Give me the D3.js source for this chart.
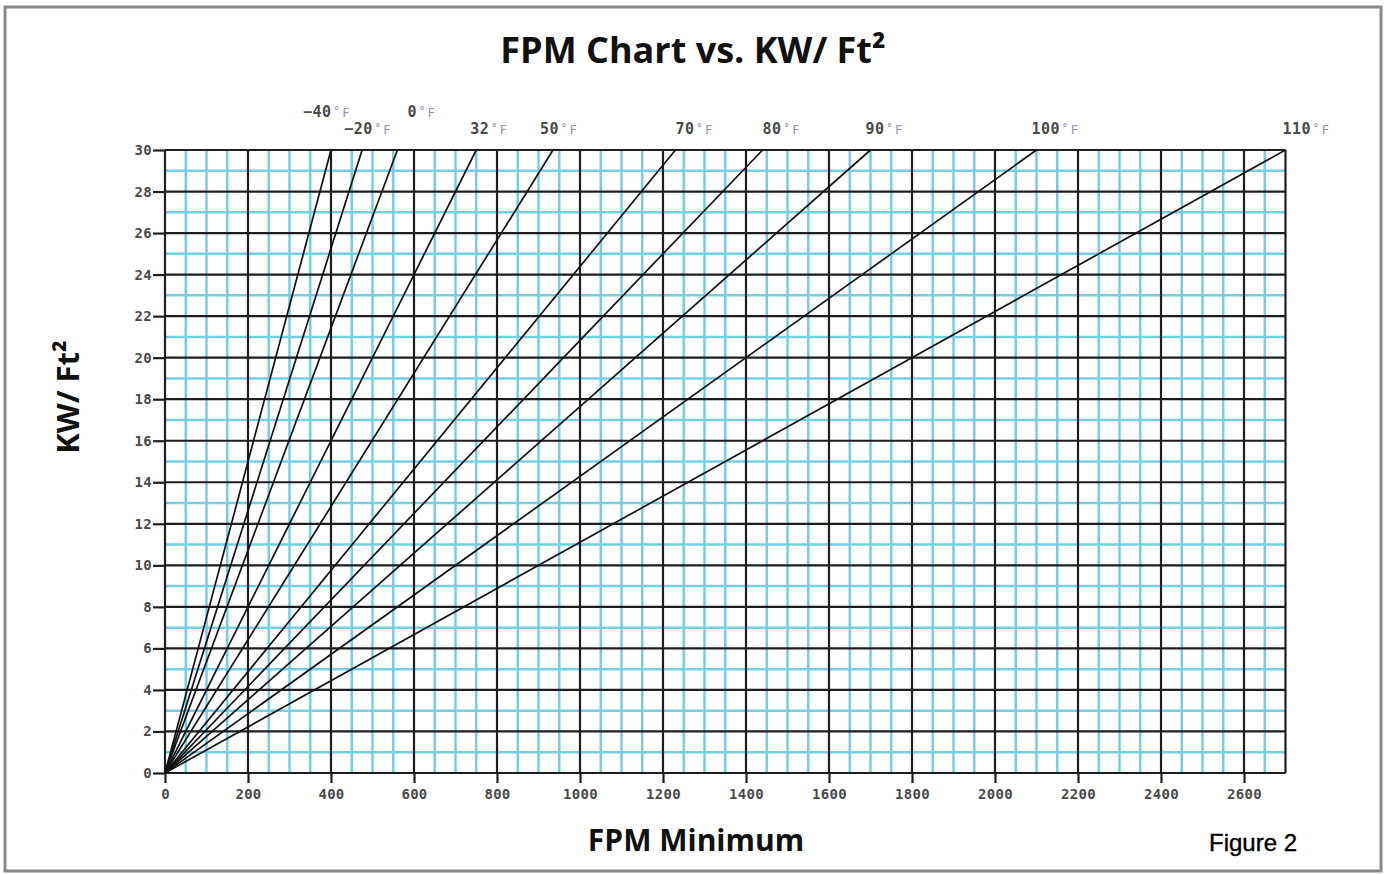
<!DOCTYPE html>
<html><head><meta charset="utf-8">
<script src="https://cdn.jsdelivr.net/npm/d3@7"></script>
<style>
html,body{margin:0;padding:0;background:#fff;}
svg{display:block;}
</style></head>
<body>
<svg id="chart" width="1387" height="874"></svg>
<script>
// ---- data ----
const seriesNames = ["-40", "-20", "0", "32", "50", "70", "80", "90", "100", "110"]; // °F
const fpmAtTop = [400, 475, 560, 750, 935, 1230, 1440, 1700, 2100, 2700];          // FPM where line reaches 30 KW/Ft²
const kwStart = 0, kwTop = 30;
const xTickValues = [0,200,400,600,800,1000,1200,1400,1600,1800,2000,2200,2400,2600];
const yTickValues = [0,2,4,6,8,10,12,14,16,18,20,22,24,26,28,30];
const xDomain = [0, 2700], yDomain = [0, 30];

// ---- layout for temperature labels (not data) ----
const labelRow = [0,1,0,1,1,1,1,1,1,1];
const labelDx = [-28,-18,10,-6,-13,0,0,-5,-5,-3];

const svg = d3.select("#chart");

// outer frame
svg.append("rect").attr("x",5).attr("y",7).attr("width",1376).attr("height",864)
  .attr("fill","none").attr("stroke","#8a8a8a").attr("stroke-width",3);

const x = d3.scaleLinear().domain(xDomain).range([165, 1285.5]);
const y = d3.scaleLinear().domain(yDomain).range([773, 150]);

const grid = svg.append("g");
// minor cyan grid
const xMinor = d3.range(50, 2700, 50).filter(v => v % 200 !== 0);
const yMinor = d3.range(1, 30, 1).filter(v => v % 2 !== 0);
const cyan = "#74cfe0";
grid.selectAll("line.xm").data(xMinor).join("line")
  .attr("x1", d=>x(d)).attr("x2", d=>x(d)).attr("y1", y(0)).attr("y2", y(30))
  .attr("stroke",cyan).attr("stroke-width",2.5);
grid.selectAll("line.ym").data(yMinor).join("line")
  .attr("y1", d=>y(d)).attr("y2", d=>y(d)).attr("x1", x(0)).attr("x2", x(2700))
  .attr("stroke",cyan).attr("stroke-width",2.5);
// major black grid
grid.selectAll("line.xM").data(xTickValues.concat([2700])).join("line")
  .attr("x1", d=>x(d)).attr("x2", d=>x(d)).attr("y1", y(0)).attr("y2", y(30))
  .attr("stroke","#1e1e1e").attr("stroke-width",2.2);
grid.selectAll("line.yM").data(yTickValues).join("line")
  .attr("y1", d=>y(d)).attr("y2", d=>y(d)).attr("x1", x(0)).attr("x2", x(2700))
  .attr("stroke","#1e1e1e").attr("stroke-width",2.2);

// axes
const monoFont = "'DejaVu Sans Mono', monospace";
const yAxis = svg.append("g").attr("transform", `translate(${x(0)},0)`)
  .call(d3.axisLeft(y).tickValues(yTickValues).tickFormat(d3.format("d")).tickSize(12).tickPadding(1));
const xAxis = svg.append("g").attr("transform", `translate(0,${y(0)})`)
  .call(d3.axisBottom(x).tickValues(xTickValues).tickFormat(d3.format("d")).tickSize(10).tickPadding(6));
[xAxis, yAxis].forEach(a => {
  a.select(".domain").remove();
  a.selectAll(".tick line").attr("stroke","#1e1e1e").attr("stroke-width",2.2);
  a.selectAll(".tick text").attr("font-family", monoFont).attr("font-size",14)
    .attr("font-weight",700).attr("letter-spacing","0.3px").attr("fill","#4a4a4a");
});

// series lines
const lineGen = d3.line().x(d=>x(d[0])).y(d=>y(d[1]));
svg.append("g").selectAll("path").data(fpmAtTop).join("path")
  .attr("d", d => lineGen([[0,kwStart],[d,kwTop]]))
  .attr("fill","none").attr("stroke","#111").attr("stroke-width",1.7);

// temperature labels
const lbl = svg.append("g");
seriesNames.forEach((n,i) => {
  const t = lbl.append("text")
    .attr("x", x(fpmAtTop[i]) + labelDx[i])
    .attr("y", labelRow[i] === 0 ? 117 : 134)
    .attr("font-family", monoFont).attr("font-size",15).attr("font-weight",700)
    .attr("letter-spacing","0.5px").attr("fill","#4a4a4a");
  t.append("tspan").text(n.replace("-", "\u2212"));
  t.append("tspan").attr("font-size",10).attr("dy",-3).attr("dx",2).attr("fill","#9a8fb0").text("°");
  t.append("tspan").attr("font-size",12).attr("font-weight",400).attr("dy",3).attr("dx",2).attr("fill","#8f8fb8").text("F");
});

// titles
const sans = "'Open Sans', 'Noto Sans', sans-serif";
svg.append("text").attr("x",693).attr("y",63).attr("text-anchor","middle")
  .attr("font-family",sans).attr("font-weight",700).attr("font-size",36).attr("fill","#111")
  .text("FPM Chart vs. KW/ Ft²");
svg.append("text").attr("transform","translate(79,397) rotate(-90)").attr("text-anchor","middle")
  .attr("font-family",sans).attr("font-weight",700).attr("font-size",31).attr("fill","#111")
  .text("KW/ Ft²");
svg.append("text").attr("x",696).attr("y",851).attr("text-anchor","middle")
  .attr("font-family",sans).attr("font-weight",700).attr("font-size",30).attr("fill","#111")
  .text("FPM Minimum");
svg.append("text").attr("x",1209).attr("y",851)
  .attr("font-family","'Liberation Sans', Arial, sans-serif").attr("font-size",24).attr("fill","#000")
  .attr("stroke","#000").attr("stroke-width",0.4)
  .text("Figure 2");
</script>
</body></html>
